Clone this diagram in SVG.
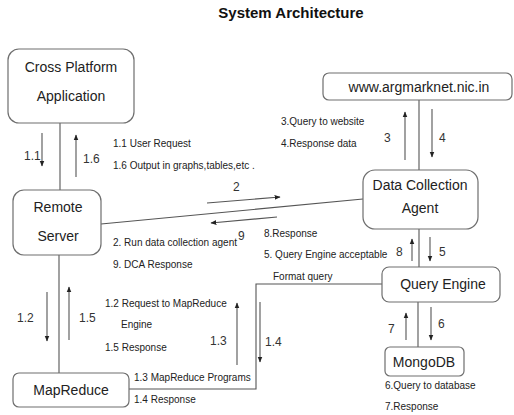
<svg xmlns="http://www.w3.org/2000/svg" width="514" height="415" viewBox="0 0 514 415">
<style>
.box{fill:#fff;stroke:#6e6e6e;stroke-width:1.2}
.bt{font-family:"Liberation Sans",Arial,sans-serif;font-size:14px;fill:#222;text-anchor:middle}
.lb{font-family:"Liberation Sans",Arial,sans-serif;font-size:10px;fill:#222}
.num{font-family:"Liberation Sans",Arial,sans-serif;font-size:12px;fill:#333}
.ln{fill:none;stroke:#555;stroke-width:1.1}
.ar{fill:none;stroke:#555;stroke-width:1.1;marker-end:url(#ah)}
</style>
<defs>
<marker id="ah" viewBox="0 0 10 10" refX="9" refY="5" markerWidth="6" markerHeight="6" markerUnits="userSpaceOnUse" orient="auto">
<path d="M0,1 L10,5 L0,9 z" fill="#222"/>
</marker>
</defs>
<rect width="514" height="415" fill="#fff"/>
<text x="291" y="18" font-family="Liberation Sans,Arial,sans-serif" font-size="15" font-weight="bold" fill="#111" text-anchor="middle">System Architecture</text>

<g id="connectors">
<path class="ln" d="M60,123 V190"/>
<path class="ln" d="M59,255 V373"/>
<path class="ln" d="M101,224 L363,199"/>
<path class="ln" d="M419,100 V170"/>
<path class="ln" d="M419,229 V267"/>
<path class="ln" d="M418,302 V347"/>
<path class="ln" d="M129,389 H256 V284 H382"/>
</g>

<g id="arrows">
<path class="ar" d="M42,133 V166"/>
<path class="ar" d="M76,177 V135"/>
<path class="ar" d="M47,292 V341"/>
<path class="ar" d="M69,340 V287"/>
<path class="ar" d="M237,365 V303"/>
<path class="ar" d="M260,302 V362"/>
<path class="ar" d="M207,203 L280,197"/>
<path class="ar" d="M277,217 L211,223"/>
<path class="ar" d="M405,160 V112"/>
<path class="ar" d="M432,109 V157"/>
<path class="ar" d="M412,261 V239"/>
<path class="ar" d="M430,237 V261"/>
<path class="ar" d="M406,340 V313"/>
<path class="ar" d="M431,307 V340"/>
</g>

<g id="labels">
<text class="num" x="24" y="160">1.1</text>
<text class="num" x="83" y="163">1.6</text>
<text class="lb" x="113" y="147">1.1 User Request</text>
<text class="lb" x="113" y="169">1.6 Output in graphs,tables,etc .</text>
<text class="num" x="233" y="191">2</text>
<text class="num" x="238" y="240" font-size="11">9</text>
<text class="lb" x="113" y="246">2. Run data collection agent</text>
<text class="lb" x="113" y="268">9. DCA Response</text>
<text class="lb" x="281" y="125">3.Query to website</text>
<text class="lb" x="281" y="147">4.Response data</text>
<text class="num" x="384" y="142">3</text>
<text class="num" x="439" y="142">4</text>
<text class="lb" x="264" y="237">8.Response</text>
<text class="lb" x="264" y="258">5. Query Engine acceptable</text>
<text class="lb" x="273" y="280">Format query</text>
<text class="num" x="396" y="256">8</text>
<text class="num" x="439" y="256">5</text>
<text class="num" x="388" y="333">7</text>
<text class="num" x="438" y="328">6</text>
<text class="lb" x="385" y="389">6.Query to database</text>
<text class="lb" x="385" y="410">7.Response</text>
<text class="num" x="17" y="322">1.2</text>
<text class="num" x="79" y="322">1.5</text>
<text class="lb" x="105" y="307">1.2 Request to MapReduce</text>
<text class="lb" x="121" y="328">Engine</text>
<text class="lb" x="105" y="351">1.5 Response</text>
<text class="num" x="210" y="345">1.3</text>
<text class="num" x="265" y="346">1.4</text>
<text class="lb" x="134" y="381">1.3 MapReduce Programs</text>
<text class="lb" x="134" y="403">1.4 Response</text>
</g>

<g id="cross-platform-application">
<rect class="box" x="8" y="49" width="126" height="74" rx="11"/>
<text class="bt" x="71" y="72">Cross Platform</text>
<text class="bt" x="71" y="101">Application</text>
</g>

<g id="remote-server">
<rect class="box" x="13" y="190" width="88" height="65" rx="11"/>
<text class="bt" x="58" y="212">Remote</text>
<text class="bt" x="58" y="241">Server</text>
</g>

<g id="mapreduce">
<rect class="box" x="13" y="373" width="116" height="34" rx="6"/>
<text class="bt" x="71" y="395">MapReduce</text>
</g>

<g id="argmarknet">
<rect class="box" x="323" y="73" width="189" height="27" rx="6"/>
<text class="bt" x="419" y="92" font-size="14.7">www.argmarknet.nic.in</text>
</g>

<g id="data-collection-agent">
<rect class="box" x="363" y="170" width="115" height="59" rx="12"/>
<text class="bt" x="420" y="190">Data Collection</text>
<text class="bt" x="420" y="213">Agent</text>
</g>

<g id="query-engine">
<rect class="box" x="382" y="267" width="118" height="35" rx="7"/>
<text class="bt" x="443" y="289">Query Engine</text>
</g>

<g id="mongodb">
<rect class="box" x="385" y="347" width="79" height="29" rx="5"/>
<text class="bt" x="424" y="367">MongoDB</text>
</g>
</svg>
